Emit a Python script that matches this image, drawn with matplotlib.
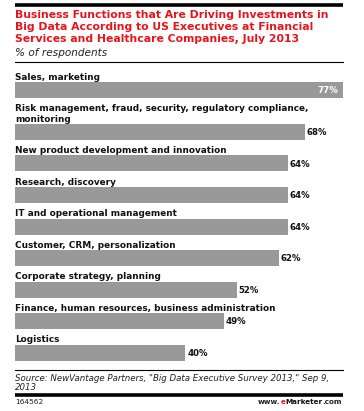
import matplotlib
matplotlib.use("Agg")
import matplotlib.pyplot as plt

# data
categories = [
    "Sales, marketing",
    "Risk management, fraud, security, regulatory compliance,\nmonitoring",
    "New product development and innovation",
    "Research, discovery",
    "IT and operational management",
    "Customer, CRM, personalization",
    "Corporate strategy, planning",
    "Finance, human resources, business administration",
    "Logistics",
]
values = [77, 68, 64, 64, 64, 62, 52, 49, 40]

title = ("Business Functions that Are Driving Investments in\n"
         "Big Data According to US Executives at Financial\n"
         "Services and Healthcare Companies, July 2013")
subtitle = "% of respondents"
source = 'Source: NewVantage Partners, "Big Data Executive Survey 2013," Sep 9,\n2013'
chart_id = "164562"

W, H = 364, 411
BAR_COLOR = "#999999"
RED = "#e8141b"

fig = plt.figure(figsize=(W / 100, H / 100), dpi=100)
fig.patch.set_facecolor("white")

# overlay axes in pixel units for the decorations
deco = fig.add_axes([0, 0, 1, 1])
deco.set_xlim(0, W)
deco.set_ylim(H, 0)
deco.axis("off")

# bar axes: x in percent, y in pixel rows
left_px, right_px = 15, 343
ax = fig.add_axes([left_px / W, 0, (right_px - left_px) / W, 1])
ax.set_xlim(0, max(values))
ax.set_ylim(H, 0)
ax.axis("off")

# row layout (two-line labels push the next bar down)
bar_h = 16
centers = []
y = 90
for i, cat in enumerate(categories):
    if i > 0:
        y += 31.5 + 10.5 * cat.count("\n")
    centers.append(y)

ax.barh(centers, values, height=bar_h, color=BAR_COLOR, edgecolor="none")

for cat, v, c in zip(categories, values, centers):
    top = c - bar_h / 2
    ax.text(0, top - 2.5, cat, fontsize=6.4, fontweight="bold", color="#111111",
            ha="left", va="baseline", linespacing=1.2)
    if v == max(values):
        ax.text(v - 1.2, c + 0.5, f"{v}%", fontsize=6.2, fontweight="bold",
                color="white", ha="right", va="center")
    else:
        ax.text(v + 0.4, c + 0.5, f"{v}%", fontsize=6.2, fontweight="bold",
                color="#111111", ha="left", va="center")

# header
deco.plot([15, 343], [5, 5], color="black", lw=2.6, solid_capstyle="butt")
deco.text(15, 9.5, title, fontsize=7.8, fontweight="bold", color=RED,
          ha="left", va="top", linespacing=1.3)
deco.text(15, 47.5, subtitle, fontsize=7.6, style="italic", color="#222222",
          ha="left", va="top")
deco.plot([15, 343], [62, 62], color="black", lw=0.8)

# footer
deco.plot([15, 343], [370, 370], color="black", lw=0.8)
deco.text(15, 374, source, fontsize=6.2, style="italic", color="#222222",
          ha="left", va="top", linespacing=1.0)
deco.plot([15, 343], [394.5, 394.5], color="black", lw=2.6, solid_capstyle="butt")
deco.text(15, 398.5, chart_id, fontsize=5.4, color="#222222", ha="left", va="top")

# eMarketer logo, built right to left
r = fig.canvas.get_renderer()
parts = [("www.", "#222222"), ("e", RED), ("Marketer", "#111111"), (".com", "#222222")]
x = 342
for txt, col in reversed(parts):
    t = deco.text(x, 398.5, txt, fontsize=5.2, fontweight="bold", color=col,
                  ha="right", va="top")
    x -= t.get_window_extent(renderer=r).width * W / fig.bbox.width

fig.savefig("out.png", dpi=100, facecolor="white")
